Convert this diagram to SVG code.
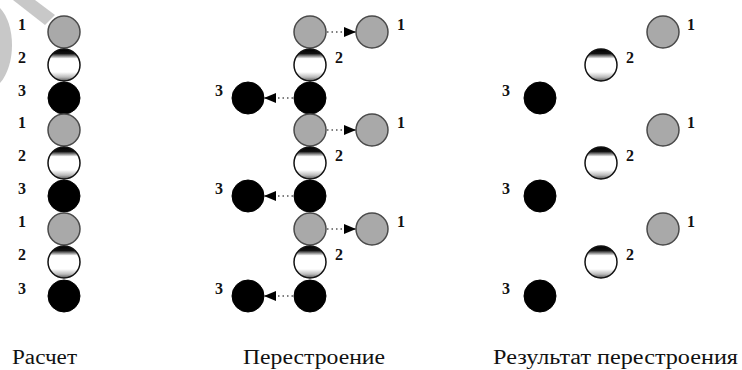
<svg xmlns="http://www.w3.org/2000/svg" width="742" height="370" viewBox="0 0 742 370">
  <defs>
    <linearGradient id="ringShade" x1="0" y1="0" x2="0" y2="1">
      <stop offset="0" stop-color="#000"/>
      <stop offset="0.14" stop-color="#111"/>
      <stop offset="0.3" stop-color="#fff"/>
      <stop offset="0.72" stop-color="#fff"/>
      <stop offset="0.88" stop-color="#bbb"/>
      <stop offset="1" stop-color="#555"/>
    </linearGradient>
    <marker id="head" viewBox="0 0 12 10" refX="12" refY="5" markerWidth="12" markerHeight="10" markerUnits="userSpaceOnUse" orient="auto">
      <path d="M0,0 L12,5 L0,10 Z" fill="#000"/>
    </marker>
    <circle id="g" r="16" class="gray"/>
    <circle id="w" r="16" class="white"/>
    <circle id="b" r="16" class="black"/>
  </defs>
  <style>
    .gray { fill: #a9a9a9; stroke: #4a4a4a; stroke-width: 1.5; }
    .white { fill: url(#ringShade); stroke: #111; stroke-width: 1.5; }
    .black { fill: #000; stroke: #000; stroke-width: 1; }
    text { font-family: "Liberation Serif", "Times New Roman", Tinos, "Noto Serif", "DejaVu Serif", serif; }
    .num { font-size: 16px; font-weight: bold; fill: #111; text-anchor: middle; }
    .cap { font-size: 20px; fill: #111; }
    .link { stroke: #555; stroke-width: 1.5; stroke-dasharray: 1.5 3; fill: none; marker-end: url(#head); }
    .mark { fill: #c8c8c8; }
  </style>

  <rect width="742" height="370" fill="#fff"/>

  <!-- light grey mark in the corner -->
  <path class="mark" d="M0,8 C16,25 16,65 0,83 Z"/>
  <path class="mark" d="M13,0 L35,0 L55,15 L45,25 Z"/>

  <!-- column 1: calculation chain -->
  <g id="calc">
    <g id="c1-1"><use href="#g" x="64" y="32"/><text class="num" x="22" y="30">1</text></g>
    <g id="c1-2"><use href="#w" x="64" y="65"/><text class="num" x="22" y="63">2</text></g>
    <g id="c1-3"><use href="#b" x="64" y="98"/><text class="num" x="22" y="96">3</text></g>
    <g id="c1-4"><use href="#g" x="64" y="130"/><text class="num" x="22" y="128">1</text></g>
    <g id="c1-5"><use href="#w" x="64" y="163"/><text class="num" x="22" y="161">2</text></g>
    <g id="c1-6"><use href="#b" x="64" y="196"/><text class="num" x="22" y="194">3</text></g>
    <g id="c1-7"><use href="#g" x="64" y="229"/><text class="num" x="22" y="227">1</text></g>
    <g id="c1-8"><use href="#w" x="64" y="262"/><text class="num" x="22" y="260">2</text></g>
    <g id="c1-9"><use href="#b" x="64" y="296"/><text class="num" x="22" y="294">3</text></g>
  </g>

  <!-- column 2: rearrangement -->
  <g id="rebuild">
    <g id="c2-1"><use href="#g" x="310" y="32"/></g>
    <g id="c2-2"><use href="#w" x="310" y="65"/><text class="num" x="339" y="63">2</text></g>
    <g id="c2-3"><use href="#b" x="310" y="98"/></g>
    <g id="c2-4"><use href="#g" x="310" y="130"/></g>
    <g id="c2-5"><use href="#w" x="310" y="163"/><text class="num" x="339" y="161">2</text></g>
    <g id="c2-6"><use href="#b" x="310" y="196"/></g>
    <g id="c2-7"><use href="#g" x="310" y="229"/></g>
    <g id="c2-8"><use href="#w" x="310" y="262"/><text class="num" x="339" y="260">2</text></g>
    <g id="c2-9"><use href="#b" x="310" y="296"/></g>

    <g id="r2-1"><use href="#g" x="372" y="32"/><text class="num" x="401" y="30">1</text></g>
    <g id="r2-2"><use href="#g" x="372" y="130"/><text class="num" x="401" y="128">1</text></g>
    <g id="r2-3"><use href="#g" x="372" y="229"/><text class="num" x="401" y="227">1</text></g>

    <g id="l2-1"><use href="#b" x="248" y="98"/><text class="num" x="219" y="96">3</text></g>
    <g id="l2-2"><use href="#b" x="248" y="196"/><text class="num" x="219" y="194">3</text></g>
    <g id="l2-3"><use href="#b" x="248" y="296"/><text class="num" x="219" y="294">3</text></g>
  </g>

  <g id="connectors">
    <line class="link" x1="327" y1="32" x2="356" y2="32"/>
    <line class="link" x1="327" y1="130" x2="356" y2="130"/>
    <line class="link" x1="327" y1="229" x2="356" y2="229"/>
    <line class="link" x1="293" y1="98" x2="264" y2="98"/>
    <line class="link" x1="293" y1="196" x2="264" y2="196"/>
    <line class="link" x1="293" y1="296" x2="264" y2="296"/>
  </g>

  <!-- column 3: result of rearrangement -->
  <g id="result">
    <g id="c3-1"><use href="#g" x="663" y="32"/><text class="num" x="691" y="30">1</text></g>
    <g id="c3-2"><use href="#w" x="601" y="65"/><text class="num" x="630" y="63">2</text></g>
    <g id="c3-3"><use href="#b" x="540" y="98"/><text class="num" x="506" y="96">3</text></g>
    <g id="c3-4"><use href="#g" x="663" y="130"/><text class="num" x="691" y="128">1</text></g>
    <g id="c3-5"><use href="#w" x="601" y="163"/><text class="num" x="630" y="161">2</text></g>
    <g id="c3-6"><use href="#b" x="540" y="196"/><text class="num" x="506" y="194">3</text></g>
    <g id="c3-7"><use href="#g" x="663" y="229"/><text class="num" x="691" y="227">1</text></g>
    <g id="c3-8"><use href="#w" x="601" y="262"/><text class="num" x="630" y="260">2</text></g>
    <g id="c3-9"><use href="#b" x="540" y="296"/><text class="num" x="506" y="294">3</text></g>
  </g>

  <!-- captions -->
  <g id="captions">
    <text class="cap" x="12" y="364" textLength="65" lengthAdjust="spacingAndGlyphs">Расчет</text>
    <text class="cap" x="243" y="364" textLength="142" lengthAdjust="spacingAndGlyphs">Перестроение</text>
    <text class="cap" x="493" y="364" textLength="245" lengthAdjust="spacingAndGlyphs">Результат перестроения</text>
  </g>
</svg>
